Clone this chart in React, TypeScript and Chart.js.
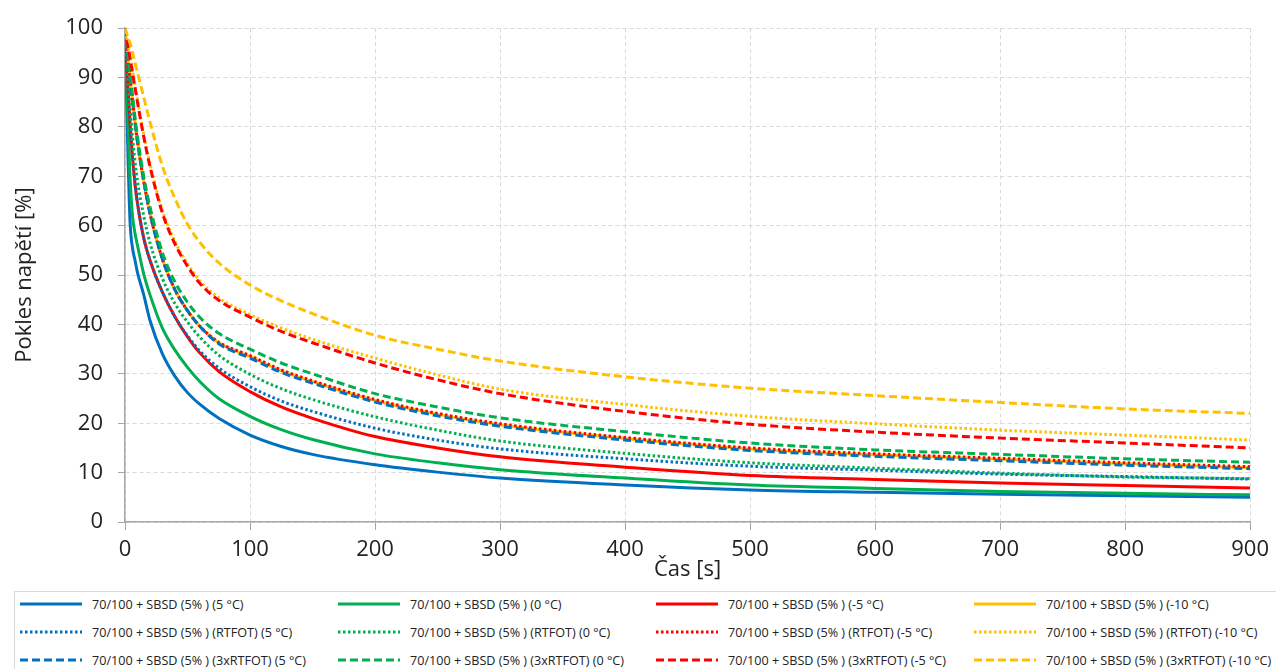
import React, { useEffect, useRef } from "react";
import { Chart, registerables } from "chart.js";

Chart.register(...registerables);

// time axis [s]
const times = [0, 2, 4, 6, 8, 10, 15, 20, 30, 40, 50, 60, 75, 100, 125, 150, 200, 250, 300, 400, 500, 600, 700, 800, 900];

// 70/100 + SBSD (5%) – unaged
const sbsd5C = [100, 78, 61, 55.5, 53, 50.5, 46, 40.8, 34, 29.5, 26.2, 23.8, 21, 17.6, 15.3, 13.7, 11.6, 10.1, 8.9, 7.5, 6.5, 6.0, 5.6, 5.3, 5.0];
const sbsd0C = [100, 84, 70, 62, 58.5, 56, 50.2, 46, 39.2, 34.8, 31.3, 28.4, 25, 21.4, 18.7, 16.7, 13.8, 12.0, 10.6, 8.9, 7.5, 6.8, 6.2, 5.8, 5.5];
const sbsdM5C = [100, 90, 81, 74, 68.5, 64.5, 57.5, 53, 46.5, 41.5, 37.5, 34.2, 30.5, 26.4, 23.3, 21.0, 17.3, 15.0, 13.2, 11.1, 9.4, 8.6, 7.9, 7.4, 6.9];
const sbsdM10C = [100, 95, 90, 85.5, 81, 77, 69, 62.5, 53.2, 47, 42.8, 39.6, 36.3, 33.5, 30.6, 28.4, 24.6, 21.8, 19.7, 16.9, 14.8, 13.6, 12.7, 11.8, 11.0];

// RTFOT aged
const rtfot5C = [100, 90, 81, 74, 68.5, 64.5, 57.5, 53, 46.5, 41.5, 37.7, 34.6, 31.2, 27.4, 24.5, 22.4, 19.0, 16.6, 14.8, 12.8, 11.3, 10.5, 9.7, 9.2, 8.7];
const rtfot0C = [100, 92, 84, 78, 73, 69, 62, 56.5, 49.3, 44.2, 40.5, 37.4, 33.8, 29.9, 27, 24.8, 21.3, 18.6, 16.4, 13.9, 12.0, 10.9, 9.9, 9.1, 8.8];
const rtfotM5C = [100, 95, 90, 85.5, 81, 77, 69, 62.5, 53.2, 47, 42.8, 39.6, 36.4, 33.7, 30.8, 28.6, 24.8, 22.0, 19.9, 17.1, 15.0, 13.8, 12.9, 12.0, 11.2];
const rtfotM10C = [100, 97.2, 94.3, 91.3, 88.4, 85.4, 78.5, 72.5, 63, 56.8, 52.3, 48.8, 45.4, 42, 39.3, 37, 33.2, 29.8, 26.9, 23.8, 21.4, 19.9, 18.6, 17.6, 16.6];

// 3x RTFOT aged
const rtfot3x5C = [100, 95, 90, 85.5, 81, 77, 69, 62.5, 53.2, 47, 42.8, 39.6, 36.1, 33.2, 30.3, 28.1, 24.3, 21.5, 19.4, 16.6, 14.5, 13.3, 12.4, 11.5, 10.8];
const rtfot3x0C = [100, 95.5, 91, 86.5, 82, 78, 70, 63.8, 54.5, 48.6, 44.5, 41.4, 38.2, 35, 32.2, 30, 26.0, 23.3, 21.1, 18.3, 16.0, 14.6, 13.7, 12.8, 12.1];
const rtfot3xM5C = [100, 97, 94, 91, 88, 85, 78, 72, 62.5, 56.3, 51.8, 48.3, 44.9, 41.5, 38.6, 36.3, 32.2, 28.8, 26.0, 22.4, 19.8, 18.2, 17.0, 16.0, 15.0];
const rtfot3xM10C = [100, 98.5, 97, 95, 93, 91, 86, 81, 72, 65.5, 60.3, 56.6, 52.5, 48, 44.8, 42.2, 37.8, 35.0, 32.6, 29.4, 27.1, 25.6, 24.2, 22.9, 22.0];

const labels = [
  "70/100 + SBSD (5% ) (5 °C)",
  "70/100 + SBSD (5% ) (0 °C)",
  "70/100 + SBSD (5% ) (-5 °C)",
  "70/100 + SBSD (5% ) (-10 °C)",
  "70/100 + SBSD (5% ) (RTFOT) (5 °C)",
  "70/100 + SBSD (5% ) (RTFOT) (0 °C)",
  "70/100 + SBSD (5% ) (RTFOT) (-5 °C)",
  "70/100 + SBSD (5% ) (RTFOT) (-10 °C)",
  "70/100 + SBSD (5% ) (3xRTFOT) (5 °C)",
  "70/100 + SBSD (5% ) (3xRTFOT) (0 °C)",
  "70/100 + SBSD (5% ) (3xRTFOT) (-5 °C)",
  "70/100 + SBSD (5% ) (3xRTFOT) (-10 °C)",
];

const BLUE = "#0070C0";
const GREEN = "#00B050";
const RED = "#FF0000";
const YELLOW = "#FFC000";

const xTicks = [0, 100, 200, 300, 400, 500, 600, 700, 800, 900];
const yTicks = [0, 10, 20, 30, 40, 50, 60, 70, 80, 90, 100];

type Style = "solid" | "dot" | "dash";
const series: { label: string; data: number[]; color: string; style: Style }[] = [
  { label: labels[0], data: sbsd5C, color: BLUE, style: "solid" },
  { label: labels[1], data: sbsd0C, color: GREEN, style: "solid" },
  { label: labels[2], data: sbsdM5C, color: RED, style: "solid" },
  { label: labels[3], data: sbsdM10C, color: YELLOW, style: "solid" },
  { label: labels[4], data: rtfot5C, color: BLUE, style: "dot" },
  { label: labels[5], data: rtfot0C, color: GREEN, style: "dot" },
  { label: labels[6], data: rtfotM5C, color: RED, style: "dot" },
  { label: labels[7], data: rtfotM10C, color: YELLOW, style: "dot" },
  { label: labels[8], data: rtfot3x5C, color: BLUE, style: "dash" },
  { label: labels[9], data: rtfot3x0C, color: GREEN, style: "dash" },
  { label: labels[10], data: rtfot3xM5C, color: RED, style: "dash" },
  { label: labels[11], data: rtfot3xM10C, color: YELLOW, style: "dash" },
];

const dashFor = (s: Style): number[] => (s === "dot" ? [2.5, 2.5] : s === "dash" ? [8, 4] : []);

const FONT = "'Open Sans', 'DejaVu Sans', sans-serif";
const TEXT = "#222222";

export default function App() {
  const ref = useRef<HTMLCanvasElement>(null);

  useEffect(() => {
    if (!ref.current) return;
    const chart = new Chart(ref.current, {
      type: "line",
      data: {
        datasets: series.map((s, i) => ({
          label: s.label,
          data: times.map((t, j) => ({ x: t, y: s.data[j] })),
          borderColor: s.color,
          backgroundColor: s.color,
          borderWidth: 3,
          borderDash: dashFor(s.style),
          borderCapStyle: "butt",
          pointRadius: 0,
          fill: false,
          cubicInterpolationMode: "monotone",
          order: series.length - i,
        })),
      },
      options: {
        animation: false,
        responsive: false,
        maintainAspectRatio: false,
        layout: { padding: { left: 0, right: 22, top: 25, bottom: 0 } },
        plugins: { legend: { display: false }, tooltip: { enabled: false } },
        scales: {
          x: {
            type: "linear",
            min: 0,
            max: 900,
            afterBuildTicks: (s: any) => {
              s.ticks = xTicks.map((v) => ({ value: v }));
            },
            afterFit: (s: any) => {
              s.height = 68;
            },
            ticks: {
              padding: 7,
              color: TEXT,
              font: { family: FONT, size: 22 },
              maxRotation: 0,
            },
            grid: {
              color: "#d9d9d9",
              lineWidth: 1,
              tickColor: "#a6a6a6",
              tickLength: 8,
              tickWidth: 1,
              tickBorderDash: [],
            },
            border: { display: true, color: "#a6a6a6", width: 1.5, dash: [4, 3] },
            title: {
              display: true,
              text: "Čas [s]",
              color: TEXT,
              font: { family: FONT, size: 22 },
              padding: { top: 0, bottom: 7 },
            },
          },
          y: {
            type: "linear",
            min: 0,
            max: 100,
            afterBuildTicks: (s: any) => {
              s.ticks = yTicks.map((v) => ({ value: v }));
            },
            afterFit: (s: any) => {
              s.width = 125;
            },
            ticks: {
              padding: 15,
              color: TEXT,
              font: { family: FONT, size: 22 },
            },
            grid: {
              color: "#d9d9d9",
              lineWidth: 1,
              tickColor: "#a6a6a6",
              tickLength: 7,
              tickWidth: 1,
              tickBorderDash: [],
            },
            border: { display: true, color: "#a6a6a6", width: 1.5, dash: [4, 3] },
            title: {
              display: true,
              text: "Pokles napětí [%]",
              color: TEXT,
              font: { family: FONT, size: 22 },
              padding: { top: 12, bottom: 0 },
            },
          },
        },
      } as any,
    });
    return () => chart.destroy();
  }, []);

  return (
    <div
      style={{
        position: "fixed",
        left: 0,
        top: 0,
        width: 1276,
        height: 669,
        background: "#ffffff",
        overflow: "hidden",
      }}
    >
      <canvas ref={ref} width={1276} height={590} style={{ display: "block", width: 1276, height: 590 }} />
      <div
        style={{
          position: "absolute",
          left: 14,
          top: 591,
          width: 1300,
          height: 100,
          border: "1px solid #d9d9d9",
          boxSizing: "border-box",
        }}
      >
        {series.map((s, i) => {
          const col = i % 4;
          const row = Math.floor(i / 4);
          const dash = dashFor(s.style);
          return (
            <div
              key={i}
              style={{
                position: "absolute",
                left: 5 + col * 318,
                top: -2 + row * 28,
                height: 28,
                display: "flex",
                alignItems: "center",
                whiteSpace: "nowrap",
                fontFamily: FONT,
                fontSize: 12.6,
                color: TEXT,
              }}
            >
              <svg width={62} height={6} style={{ display: "block" }}>
                <line
                  x1={0}
                  y1={3}
                  x2={62}
                  y2={3}
                  stroke={s.color}
                  strokeWidth={3}
                  strokeDasharray={dash.length ? dash.join(" ") : undefined}
                />
              </svg>
              <span style={{ marginLeft: 10 }}>{s.label}</span>
            </div>
          );
        })}
      </div>
    </div>
  );
}
